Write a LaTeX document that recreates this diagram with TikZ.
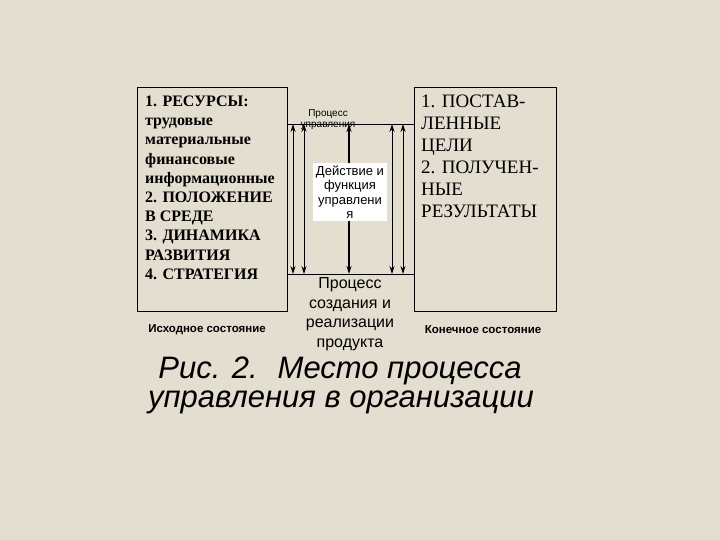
\documentclass[tikz,border=0pt]{standalone}
\usepackage{fontspec}
\setmainfont{Liberation Serif}
\newfontfamily\arial{Liberation Sans}
\usetikzlibrary{arrows.meta}
\definecolor{bg}{HTML}{E4DED0}
\begin{document}
\begin{tikzpicture}[x=1pt,y=-1pt,
  box/.style={draw,line width=0.8pt},
  arr/.style={{Stealth[length=8pt,width=5pt]}-{Stealth[length=8pt,width=5pt]},line width=0.8pt},
  lt/.style={anchor=west,inner sep=0pt,text height=10pt,text depth=3pt,font=\bfseries\fontsize{16}{18}\selectfont},
  rt/.style={anchor=west,inner sep=0pt,text height=11pt,text depth=3pt,font=\fontsize{19}{21}\selectfont},
  sm/.style={inner sep=0pt,font=\arial\fontsize{10}{11}\selectfont}]
\fill[bg] (0,0) rectangle (720,540);
\useasboundingbox (0,0) rectangle (720,540);
\draw[box] (137,87) rectangle (287,311);
\draw[box] (414,87) rectangle (556,311);
\coordinate (tl) at (287,124); \coordinate (tr) at (414,124);
\coordinate (bl) at (287,274); \coordinate (br) at (414,274);
\draw[line width=0.7pt] (tl) -- (tr);
\draw[line width=0.7pt] (bl) -- (br);
\foreach \x/\n in {293/a,304/b,392/d,403/e}{
  \coordinate (\n1) at (\x,124); \coordinate (\n2) at (\x,274);
  \draw[arr] (\n1) -- (\n2);}
\coordinate (c1) at (349,124); \coordinate (c2) at (349,274);
\draw[arr,line width=1.5pt] (c1) -- (c2);
\node[fill=white,inner sep=2pt,minimum width=74pt,minimum height=56pt,align=center,font=\arial\fontsize{13}{14.5}\selectfont] (act) at (350,192) {Действие и\\функция\\управлени\\я};
\node[sm,align=center] (pu) at (328,120) {Процесс\\управления};
\foreach \t [count=\i from 0] in {1. РЕСУРСЫ:,трудовые,материальные,финансовые,информационные,2. ПОЛОЖЕНИЕ,В СРЕДЕ,3. ДИНАМИКА,РАЗВИТИЯ,4. СТРАТЕГИЯ}
  \node[lt] (l\i) at (145,{103+19.2*\i}) {\t};
\foreach \t [count=\i from 0] in {1. ПОСТАВ-,ЛЕННЫЕ,ЦЕЛИ,2. ПОЛУЧЕН-,НЫЕ,РЕЗУЛЬТАТЫ}
  \node[rt] (r\i) at (421,{104+22*\i}) {\t};
\node[font=\arial\bfseries\fontsize{11.5}{13}\selectfont] (is) at (207,330) {Исходное состояние};
\node[font=\arial\bfseries\fontsize{11.5}{13}\selectfont] (ks) at (483,330) {Конечное состояние};
\node[align=center,font=\arial\fontsize{16}{19.5}\selectfont] (pr) at (350,314) {Процесс\\создания и\\реализации\\продукта};
\node[font=\arial\itshape\fontsize{31}{34}\selectfont] (cap1) at (340,371) {Рис. 2.\hspace{20pt}Место процесса};
\node[font=\arial\itshape\fontsize{31}{34}\selectfont] (cap2) at (341,402) {управления в организации};
\end{tikzpicture}
\end{document}
